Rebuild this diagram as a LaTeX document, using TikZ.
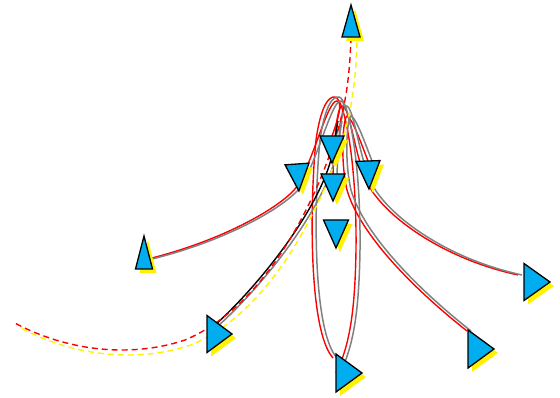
\documentclass[tikz,border=0pt]{standalone}
\usetikzlibrary{calc}
\definecolor{tipblue}{RGB}{0,174,239}
% arrow head: name of its base point, direction, length, half width
\newcommand{\tip}[4]{%
  \begin{scope}[shift={(#1)},xshift=4pt,yshift=-4pt,rotate=#2]
    \fill[yellow] (0,-#4) -- (#3,0) -- (0,#4) -- cycle;
  \end{scope}
  \begin{scope}[shift={(#1)},rotate=#2]
    \filldraw[fill=tipblue,line width=1.3pt,line join=miter] (0,-#4) -- (#3,0) -- (0,#4) -- cycle;
  \end{scope}
}

\begin{document}
\begin{tikzpicture}[x=1pt,y=-1pt,
  redline/.style={red,line width=1.4pt},
  grayline/.style={gray,line width=1.5pt,transform canvas={xshift=4pt}},
  blackline/.style={black,line width=1.4pt},
  reddash/.style={red,line width=1.4pt,dash pattern=on 6pt off 4pt},
  yellowdash/.style={yellow,line width=1.4pt,dash pattern=on 6pt off 4pt,
    transform canvas={xshift=6pt,yshift=-5pt}}]
  \useasboundingbox (0,0) rectangle (560,398);
  % base points of the heads
  \coordinate (a1) at (351,37);
  \coordinate (a2) at (332,136);
  \coordinate (a3) at (297,164);
  \coordinate (a4) at (368,161);
  \coordinate (a5) at (333,174);
  \coordinate (a6) at (336,220);
  \coordinate (a7) at (144,269);
  \coordinate (a8) at (524,282);
  \coordinate (a9) at (207,334);
  \coordinate (a10) at (468,349);
  \coordinate (a11) at (336,373);
  % free ends and turning points
  \coordinate (a7e) at (148,259);
  \coordinate (a8e) at (518,275);
  \coordinate (a9e) at (214,326);
  \coordinate (a10e) at (467,331);
  \coordinate (a11e) at (333,358);
  \coordinate (tail) at (13,322);
  \coordinate (hubA) at (337,101);
  \coordinate (hubB) at (342,106);
  \coordinate (hubC) at (347,116);
  \coordinate (hubD) at (338,121);
  \coordinate (hubE) at (335,97);

  \foreach \s in {redline,grayline} {
    \draw[\s] (a7e) .. controls (225,240) and (285,205) .. (298,185)
      .. controls (315,155) and (328,100) .. (hubA)
      .. controls (344,102) and (336,125) .. (a2);
    \draw[\s] (a8e) .. controls (440,258) and (385,215) .. (369,186)
      .. controls (355,160) and (350,105) .. (hubB)
      .. controls (336,107) and (334,150) .. (a5);
    \draw[\s] (a10e) .. controls (415,290) and (360,235) .. (347,190)
      .. controls (340,160) and (343,118) .. (hubC)
      .. controls (352,118) and (360,140) .. (a4);
    \draw[\s] (a11e) .. controls (308,330) and (310,200) .. (316,140)
      .. controls (321,105) and (329,96) .. (hubE)
      .. controls (344,98) and (357,160) .. (356,250)
      .. controls (355,310) and (350,345) .. (a11);
  }
  \foreach \s in {blackline,grayline}
    \draw[\s] (a9e) .. controls (265,280) and (325,200) .. (333,150)
      .. controls (336,135) and (337,125) .. (hubD);
  \foreach \s in {reddash,yellowdash}
    \draw[\s] (a1) .. controls (349,100) and (340,130) .. (320,180)
      .. controls (290,250) and (245,315) .. (185,340)
      .. controls (125,360) and (60,348) .. (tail);

  \tip{a1}{90}{32}{9}
  \tip{a2}{-90}{27}{12}
  \tip{a3}{-86}{27}{12}
  \tip{a4}{-88}{28}{12}
  \tip{a5}{-90}{27}{12}
  \tip{a6}{-90}{28}{12.5}
  \tip{a7}{90}{33}{8.5}
  \tip{a8}{0}{26}{18.5}
  \tip{a9}{0}{25}{18.5}
  \tip{a10}{0}{26}{19}
  \tip{a11}{0}{26}{19}
\end{tikzpicture}
\end{document}
